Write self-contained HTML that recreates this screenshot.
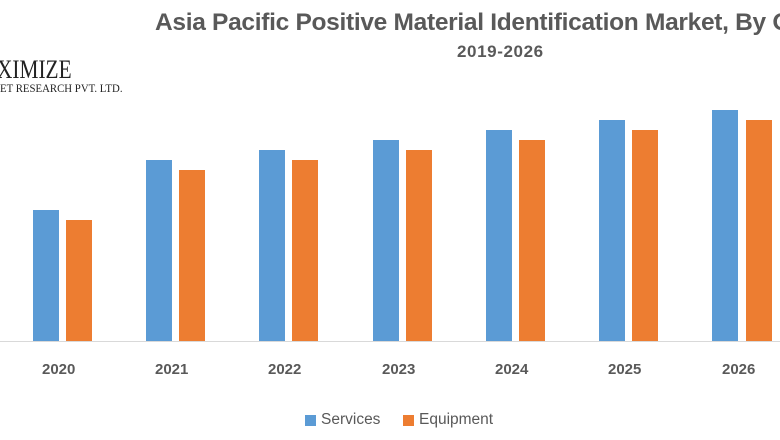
<!DOCTYPE html>
<html><head><style>
body{margin:0;width:780px;height:440px;background:#fff;position:relative;overflow:hidden;font-family:"Liberation Sans",sans-serif}
.t{position:absolute;color:#595959;white-space:nowrap}
.b{position:absolute}
.s{background:#5b9bd5}.e{background:#ed7d31}
</style></head><body>
<div class="t" style="left:155px;top:9px;width:625px;overflow:hidden;font-size:24.5px;font-weight:bold;letter-spacing:-0.3px">Asia Pacific Positive Material Identification Market, By Offering</div>
<div class="t" style="left:457px;top:42px;font-size:17px;font-weight:bold;letter-spacing:0.6px">2019-2026</div>
<div class="t" style="left:-3px;top:55px;font-family:'Liberation Serif',serif;font-size:26px;color:#222;transform:scaleX(0.82);transform-origin:left">XIMIZE</div>
<div class="t" style="left:0px;top:81px;font-family:'Liberation Serif',serif;font-size:12px;color:#222;transform:scaleX(0.9);transform-origin:left">ET RESEARCH PVT. LTD.</div>
<div class="b" style="left:0;top:341px;width:780px;height:1px;background:#d9d9d9"></div>
<div class="b s" style="left:33px;top:210px;width:26px;height:131px"></div>
<div class="b e" style="left:66px;top:220px;width:26px;height:121px"></div>
<div class="b s" style="left:146px;top:160px;width:26px;height:181px"></div>
<div class="b e" style="left:179px;top:170px;width:26px;height:171px"></div>
<div class="b s" style="left:259px;top:150px;width:26px;height:191px"></div>
<div class="b e" style="left:292px;top:160px;width:26px;height:181px"></div>
<div class="b s" style="left:373px;top:140px;width:26px;height:201px"></div>
<div class="b e" style="left:406px;top:150px;width:26px;height:191px"></div>
<div class="b s" style="left:486px;top:130px;width:26px;height:211px"></div>
<div class="b e" style="left:519px;top:140px;width:26px;height:201px"></div>
<div class="b s" style="left:599px;top:120px;width:26px;height:221px"></div>
<div class="b e" style="left:632px;top:130px;width:26px;height:211px"></div>
<div class="b s" style="left:712px;top:110px;width:26px;height:231px"></div>
<div class="b e" style="left:746px;top:120px;width:26px;height:221px"></div>
<div class="t" style="left:42px;top:361px;font-size:15px;font-weight:bold">2020</div>
<div class="t" style="left:155px;top:361px;font-size:15px;font-weight:bold">2021</div>
<div class="t" style="left:268px;top:361px;font-size:15px;font-weight:bold">2022</div>
<div class="t" style="left:382px;top:361px;font-size:15px;font-weight:bold">2023</div>
<div class="t" style="left:495px;top:361px;font-size:15px;font-weight:bold">2024</div>
<div class="t" style="left:608px;top:361px;font-size:15px;font-weight:bold">2025</div>
<div class="t" style="left:722px;top:361px;font-size:15px;font-weight:bold">2026</div>
<div class="b s" style="left:305px;top:415px;width:11px;height:11px"></div>
<div class="t" style="left:321px;top:411px;font-size:15.5px">Services</div>
<div class="b e" style="left:403px;top:415px;width:11px;height:11px"></div>
<div class="t" style="left:419px;top:411px;font-size:15.5px">Equipment</div>
</body></html>
